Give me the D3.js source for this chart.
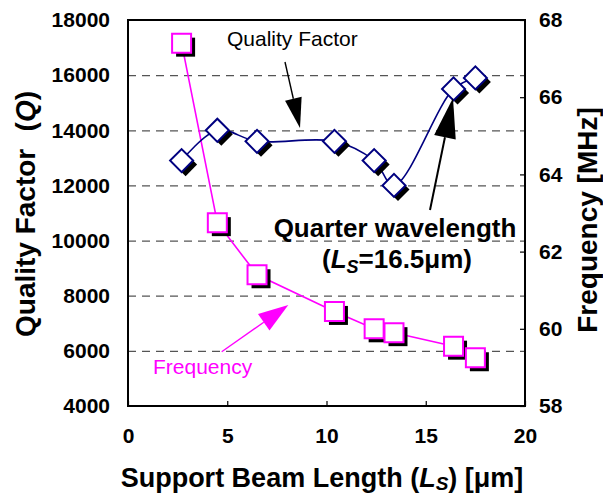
<!DOCTYPE html>
<html><head><meta charset="utf-8">
<script src="https://cdn.jsdelivr.net/npm/d3@7"></script>
<style>
html,body{margin:0;padding:0;background:#fff;}
svg{display:block;font-family:"Liberation Sans",Arial,Helvetica,sans-serif;}
</style></head><body>
<svg id="chart" width="603" height="496"></svg>
<script>
// Measured resonator data: support beam length vs. quality factor and frequency
const beamLength    = [2.7, 4.5, 6.5, 10.4, 12.4, 13.4, 16.4, 17.5];
const qualityFactor = [12900, 14000, 13600, 13600, 12900, 12000, 15500, 15900];
const frequencyMHz  = [67.4, 62.75, 61.4, 60.45, 60.0, 59.9, 59.55, 59.25];

const xTicks = [0, 5, 10, 15, 20];
const qTicks = [4000, 6000, 8000, 10000, 12000, 14000, 16000, 18000];
const fTicks = [58, 60, 62, 64, 66, 68];

const FONT = '"Liberation Sans",Arial,Helvetica,sans-serif';
const svg = d3.select("#chart");
const m = {left: 128, top: 20, right: 525, bottom: 406};

const x  = d3.scaleLinear().domain([0, 20]).range([m.left, m.right]);
const yQ = d3.scaleLinear().domain([4000, 18000]).range([m.bottom, m.top]);
const yF = d3.scaleLinear().domain([58, 68]).range([m.bottom, m.top]);
const plain = d3.format("d");

// dashed horizontal grid on the quality-factor scale
svg.append("g")
  .attr("transform", `translate(${m.left},0)`)
  .call(d3.axisLeft(yQ).tickValues(qTicks.slice(1, -1)).tickSize(-(m.right - m.left)).tickFormat(""))
  .call(g => g.select(".domain").remove())
  .selectAll("line")
  .attr("stroke", "#555").attr("stroke-width", 1.2).attr("stroke-dasharray", "8,6");

function styleAxis(g) {
  g.attr("font-family", FONT).attr("font-size", 21).attr("font-weight", "bold");
  g.select(".domain").remove();
  g.selectAll("text").attr("fill", "#000");
  g.selectAll("line").attr("stroke", "#000").attr("stroke-width", 1.2);
}

// left axis (Q)
svg.append("g")
  .attr("transform", `translate(${m.left},0)`)
  .call(d3.axisLeft(yQ).tickValues(qTicks).tickFormat(plain).tickSize(0).tickPadding(18))
  .call(styleAxis);

// right axis (frequency)
svg.append("g")
  .attr("transform", `translate(${m.right},0)`)
  .call(d3.axisRight(yF).tickValues(fTicks).tickFormat(plain).tickSizeInner(-5).tickSizeOuter(0).tickPadding(14))
  .call(styleAxis);

// bottom axis
svg.append("g")
  .attr("transform", `translate(0,${m.bottom})`)
  .call(d3.axisBottom(x).tickValues(xTicks).tickFormat(plain).tickSizeInner(-5).tickSizeOuter(0).tickPadding(22))
  .call(styleAxis);

// plot frame
svg.append("rect")
  .attr("x", m.left).attr("y", m.top)
  .attr("width", m.right - m.left).attr("height", m.bottom - m.top)
  .attr("fill", "none").attr("stroke", "#000").attr("stroke-width", 2);

// series lines
const freqLine = d3.line().x((d, i) => x(beamLength[i])).y(d => yF(d));
const qLine = d3.line().x((d, i) => x(beamLength[i])).y(d => yQ(d)).curve(d3.curveCatmullRom.alpha(0.5));

svg.append("path").attr("d", freqLine(frequencyMHz))
  .attr("fill", "none").attr("stroke", "#ff00ff").attr("stroke-width", 1.6);
svg.append("path").attr("d", qLine(qualityFactor))
  .attr("fill", "none").attr("stroke", "#000080").attr("stroke-width", 1.6);

// markers with drop shadow
const sq = d3.symbol(d3.symbolSquare, 361)();
const dia = d3.symbol(d3.symbolSquare, 265)();
const SH = 4;

function markers(values, yScale, pathD, rot, color) {
  const g = svg.append("g");
  values.forEach((v, i) => {
    const cx = x(beamLength[i]), cy = yScale(v);
    g.append("path").attr("d", pathD)
      .attr("transform", `translate(${cx + SH},${cy + SH}) rotate(${rot})`)
      .attr("fill", "#000");
    g.append("path").attr("d", pathD)
      .attr("transform", `translate(${cx},${cy}) rotate(${rot})`)
      .attr("fill", "#fff").attr("stroke", color).attr("stroke-width", 2);
  });
}
markers(qualityFactor, yQ, dia, 45, "#000080");
markers(frequencyMHz, yF, sq, 0, "#ff00ff");

// annotation arrows
function arrow(x1, y1, x2, y2, headLen, headW, color, sw) {
  const dx = x2 - x1, dy = y2 - y1, L = Math.hypot(dx, dy);
  const ux = dx / L, uy = dy / L;
  const bx = x2 - ux * headLen, by = y2 - uy * headLen;
  svg.append("line").attr("x1", x1).attr("y1", y1).attr("x2", bx).attr("y2", by)
    .attr("stroke", color).attr("stroke-width", sw);
  const px = -uy * headW / 2, py = ux * headW / 2;
  svg.append("path")
    .attr("d", `M${x2},${y2}L${bx + px},${by + py}L${bx - px},${by - py}Z`)
    .attr("fill", color);
}

svg.append("text").attr("x", 227).attr("y", 45.5)
  .attr("font-size", 21).attr("fill", "#000").text("Quality Factor");
arrow(285, 62, 300, 128, 30, 17, "#000", 1.4);

svg.append("text").attr("x", 395).attr("y", 237).attr("text-anchor", "middle")
  .attr("font-size", 26).attr("font-weight", "bold").text("Quarter wavelength");
const t2 = svg.append("text").attr("x", 397).attr("y", 268).attr("text-anchor", "middle")
  .attr("font-size", 26).attr("font-weight", "bold");
t2.append("tspan").text("(");
t2.append("tspan").attr("font-style", "italic").text("L");
t2.append("tspan").attr("font-style", "italic").attr("font-size", 18).attr("dy", 5).text("S");
t2.append("tspan").attr("dy", -5).text("=16.5μm)");
arrow(430, 210, 453, 98, 40, 22, "#000", 2);

svg.append("text").attr("x", 153).attr("y", 374)
  .attr("font-size", 21).attr("fill", "#ff00ff").text("Frequency");
arrow(221.7, 351.7, 288.3, 305, 30, 20, "#ff00ff", 1.4);

// axis titles
svg.append("text").attr("transform", "translate(35,337) rotate(-90)")
  .attr("font-size", 28).attr("font-weight", "bold").text("Quality Factor");
const qt = svg.append("text").attr("transform", "translate(35,91) rotate(-90)")
  .attr("text-anchor", "end").attr("font-size", 28).attr("font-weight", "bold");
qt.append("tspan").text("(");
qt.append("tspan").attr("font-style", "italic").text("Q");
qt.append("tspan").text(")");

svg.append("text").attr("transform", "translate(597,220) rotate(-90)")
  .attr("text-anchor", "middle").attr("font-size", 28).attr("font-weight", "bold")
  .text("Frequency [MHz]");

const xt = svg.append("text").attr("x", 322).attr("y", 487).attr("text-anchor", "middle")
  .attr("font-size", 27).attr("font-weight", "bold");
xt.append("tspan").text("Support Beam Length (");
xt.append("tspan").attr("font-style", "italic").text("L");
xt.append("tspan").attr("font-style", "italic").attr("font-size", 19).attr("dy", 3).text("S");
xt.append("tspan").attr("dy", -3).text(") [μm]");
</script>
</body></html>
